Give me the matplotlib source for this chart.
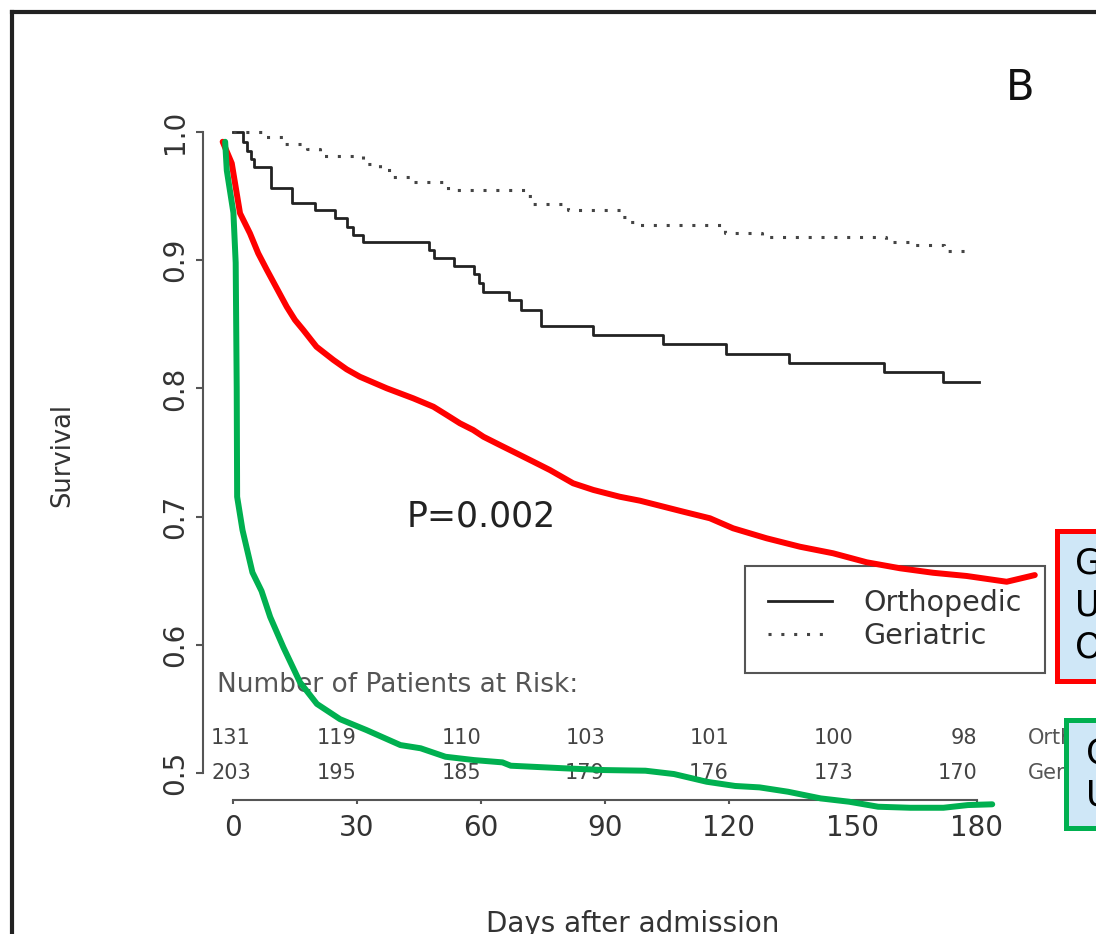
import matplotlib
matplotlib.use('Agg')
import matplotlib.pyplot as plt
from matplotlib.lines import Line2D
from matplotlib.patches import Rectangle

# ---------------- data ----------------
ortho_days = [0, 2.5, 3.5, 4.3, 5.0, 9.3, 14.2, 19.8, 24.7, 27.5, 29.0, 31.4, 47.5, 48.7,
              53.5, 58.4, 59.5, 60.4, 66.9, 69.7, 74.5, 87.0, 104.0, 119.3, 134.6, 157.5,
              171.7, 180.5]
ortho_surv = [1.0, 0.992, 0.985, 0.979, 0.973, 0.956, 0.945, 0.939, 0.933, 0.926, 0.920,
              0.914, 0.908, 0.902, 0.8955, 0.889, 0.882, 0.8755, 0.869, 0.861, 0.849, 0.842,
              0.835, 0.827, 0.820, 0.8125, 0.805, 0.805]

geri_days = [0, 7, 12, 18, 21, 31.5, 35.5, 38.5, 43, 52, 71, 72.5, 81, 94, 96, 98, 119,
             128, 158, 164, 172, 178]
geri_surv = [1.0, 0.996, 0.991, 0.987, 0.981, 0.975, 0.970, 0.965, 0.961, 0.955, 0.950,
             0.944, 0.939, 0.934, 0.930, 0.9275, 0.921, 0.918, 0.9144, 0.912, 0.9074, 0.9074]

red_days = [-2.5, -0.3, 1.7, 4.1, 6.1, 8.2, 13.0, 15.0, 17.0, 20.2, 24.3, 27.5, 30.7, 37.2,
            43.6, 48.5, 51.7, 54.9, 58.1, 60.6, 64.6, 68.6, 72.7, 76.7, 82.3, 87.2, 93.6,
            98.5, 109, 115.4, 121, 129.1, 137.2, 145.2, 153.3, 161.4, 169.4, 177.5, 187.2,
            194]
red_surv = [0.9924, 0.9756, 0.9366, 0.921, 0.9054, 0.8924, 0.8637, 0.8534, 0.8456, 0.8325,
            0.8222, 0.8149, 0.8091, 0.8001, 0.7923, 0.7857, 0.7793, 0.7728, 0.7676, 0.7623,
            0.7558, 0.7494, 0.7428, 0.7363, 0.726, 0.7208, 0.7155, 0.7124, 0.7038, 0.6987,
            0.6909, 0.6831, 0.6765, 0.6714, 0.6644, 0.6597, 0.6562, 0.6537, 0.6492, 0.6544]

green_days = [-1.9, -1.5, 0.1, 0.65, 0.9, 1.0, 2.3, 4.7, 6.9, 9.0, 12.2, 16.2, 20.3, 25.9,
              32.3, 40.5, 45.4, 51.4, 58.3, 65.2, 67.2, 80, 89.9, 99.8, 106.7, 114.6, 121.5,
              127.4, 134.3, 142.2, 149.1, 156.1, 163.9, 171.9, 177.8, 183.7]
green_surv = [0.9924, 0.970, 0.937, 0.898, 0.80, 0.7155, 0.6895, 0.6565, 0.642, 0.6217,
              0.598, 0.5708, 0.5539, 0.542, 0.5335, 0.5218, 0.5193, 0.5127, 0.5101, 0.5083,
              0.5057, 0.5037, 0.5023, 0.5018, 0.4992, 0.4932, 0.4899, 0.4888, 0.4854, 0.4802,
              0.4776, 0.4737, 0.4729, 0.4729, 0.4750, 0.4756]

risk_days = [0, 30, 60, 90, 120, 150, 180]
risk_ortho = [131, 119, 110, 103, 101, 100, 98]
risk_geri = [203, 195, 185, 179, 176, 173, 170]

xticks = [0, 30, 60, 90, 120, 150, 180]
yticks = [0.5, 0.6, 0.7, 0.8, 0.9, 1.0]
ytick_labels = ["0.5", "0.6", "0.7", "0.8", "0.9", "1.0"]

group_labels = ["Orthopedic", "Geriatric"]
red_box_letters = ["G", "U", "O"]
green_box_letters = ["C", "U"]

# ---------------- figure ----------------
W, H = 1096, 934
fig = plt.figure(figsize=(W / 100, H / 100), dpi=100)
fig.patch.set_facecolor('white')

def fx(px):
    return px / W

def fy(py):
    return 1 - py / H

ax = fig.add_axes([fx(203), fy(824.3), 857 / W, 705.1 / H])
ax.set_xlim(-30 / 4.133, 827 / 4.133)
ax.set_ylim(0.46, 1.01)
ax.patch.set_alpha(0)

axis_col = '#555555'
txt_col = '#333333'

for s in ['top', 'right']:
    ax.spines[s].set_visible(False)
ax.spines['left'].set_bounds(0.5, 1.0)
ax.spines['left'].set_color(axis_col)
ax.spines['left'].set_linewidth(1.5)
ax.spines['bottom'].set_position(('data', 0.479))
ax.spines['bottom'].set_bounds(0, 180)
ax.spines['bottom'].set_color(axis_col)
ax.spines['bottom'].set_linewidth(1.5)

ax.set_xticks(xticks)
ax.set_xticklabels([str(v) for v in xticks])
ax.set_yticks(yticks)
ax.set_yticklabels(ytick_labels)
ax.tick_params(axis='y', length=5, width=1.5, color=axis_col, labelsize=20,
               labelcolor=txt_col, pad=5, labelrotation=90)
ax.tick_params(axis='x', length=3, width=1.5, color=axis_col, labelsize=20,
               labelcolor=txt_col, pad=7)
for lab in ax.get_yticklabels():
    lab.set_va('center')

# Kaplan-Meier curves
l_ortho, = ax.step(ortho_days, ortho_surv, where='post', color='#222222', lw=2.0,
                   label=group_labels[0])
l_geri, = ax.step(geri_days, geri_surv, where='post', color='#444444', lw=2.2,
                  linestyle=(0, (1, 3.2)), label=group_labels[1])

# overlay curves
ax.plot(red_days, red_surv, color='#ff0000', lw=4.3, zorder=6, clip_on=False,
        solid_capstyle='round', solid_joinstyle='round')
ax.plot(green_days, green_surv, color='#00b050', lw=4.3, zorder=6, clip_on=False,
        solid_capstyle='round', solid_joinstyle='round')

# labels
ax.set_ylabel('Survival', fontsize=18.5, color=txt_col, va='center')
ax.yaxis.set_label_coords((62 - 203) / 857, (824.3 - 455) / 705.1)
ax.set_xlabel('Days after admission', fontsize=20, color=txt_col, va='baseline')
ax.xaxis.set_label_coords((633 - 203) / 857, (824.3 - 932) / 705.1)

ax.text(60, 0.70, 'P=0.002', fontsize=25, color='#222222', ha='center', va='center')

# legend
leg = ax.legend([l_ortho, l_geri], group_labels, loc='upper left',
                bbox_to_anchor=(fx(745), fy(566)), bbox_transform=fig.transFigure,
                fontsize=20.5, frameon=True, fancybox=False, edgecolor='#555555',
                framealpha=1, handlelength=2.25, handletextpad=1.09, borderpad=0.82,
                labelspacing=0.15, borderaxespad=0, labelcolor='#333333')
leg.get_frame().set_linewidth(1.5)
leg.set_zorder(5)

# patients at risk
ax.text(-3.9, 0.5686, 'Number of Patients at Risk:', fontsize=19, color='#555555',
        ha='left', va='center')
first_offset = 4.3
row1_y, row2_y = 0.5273, 0.5
for i, (d, a, b) in enumerate(zip(risk_days, risk_ortho, risk_geri)):
    xpos = d + (first_offset if i == 0 else 0)
    ax.text(xpos, row1_y, str(a), fontsize=15, color='#444444', ha='right', va='center')
    ax.text(xpos, row2_y, str(b), fontsize=15, color='#444444', ha='right', va='center')
label_x = 192.4
ax.text(label_x, row1_y, group_labels[0], fontsize=15, color='#555555', ha='left',
        va='center', clip_on=False)
ax.text(label_x, row2_y, group_labels[1], fontsize=15, color='#555555', ha='left',
        va='center', clip_on=False)

# panel letter
fig.text(fx(1020), fy(88), 'B', fontsize=30, ha='center', va='center', color='#111111')

# outer frame (left and top edges)
fig.add_artist(Line2D([fx(12), fx(12)], [0, fy(12)], transform=fig.transFigure,
                      color='#222222', lw=3))
fig.add_artist(Line2D([fx(12), 1.0], [fy(12), fy(12)], transform=fig.transFigure,
                      color='#222222', lw=3))

# annotation boxes on the right
box_fill = '#cfe7f7'
fig.add_artist(Rectangle((fx(1057), fy(680.5)), (1130 - 1057) / W, (680.5 - 530.5) / H,
                         transform=fig.transFigure, facecolor=box_fill, edgecolor='#ff0000',
                         lw=3.6, zorder=4))
for i, ch in enumerate(red_box_letters):
    fig.text(fx(1075), fy(563 + 42 * i), ch, fontsize=25, ha='left', va='center',
             color='black', zorder=5)
fig.add_artist(Rectangle((fx(1066), fy(827.5)), (1130 - 1066) / W, (827.5 - 719.5) / H,
                         transform=fig.transFigure, facecolor=box_fill, edgecolor='#00b050',
                         lw=3.6, zorder=4))
for i, ch in enumerate(green_box_letters):
    fig.text(fx(1086), fy(754 + 42 * i), ch, fontsize=25, ha='left', va='center',
             color='black', zorder=5)

fig.savefig('out.png', dpi=100)
